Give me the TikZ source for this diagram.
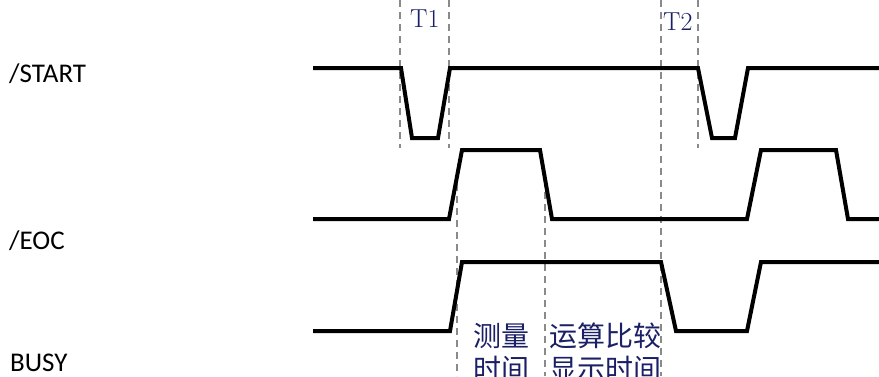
\documentclass[tikz,border=0pt]{standalone}
\usepackage{fontspec}
\newfontfamily\carlito{Carlito}
\newfontfamily\cjk{Noto Sans CJK SC}
\definecolor{navy}{HTML}{1A1F66}
\definecolor{guidegray}{HTML}{8A8A8A}
\begin{document}
\begin{tikzpicture}[x=1pt,y=-1pt,
  sig/.style={line width=4pt, black},
  guide/.style={guidegray, line width=1.1pt, dash pattern=on 7pt off 5pt},
  lbl/.style={anchor=base west, inner sep=0pt, font=\carlito\fontsize{27}{30}\selectfont},
  tmark/.style={anchor=base west, inner sep=0pt, text=navy, font=\fontsize{26}{28}\selectfont},
  cn/.style={anchor=base west, inner sep=0pt, text=navy, align=left, font=\cjk\fontsize{28}{33}\selectfont}]
\useasboundingbox (0,0) rectangle (879,376);
\clip (0,0) rectangle (879,376);
\fill[white] (0,0) rectangle (879,376);

% guide lines
\draw[guide] (400,0) -- (400,148);
\draw[guide] (449,0) -- (449,148);
\draw[guide] (661,0) -- (661,376);
\draw[guide] (698,0) -- (698,148);
\draw[guide] (457,172) -- (457,376);
\draw[guide] (545,180) -- (545,376);

% labels
\node[lbl] (start) at (9,82) {/START};
\node[lbl] (eoc) at (9,249) {/EOC};
\node[lbl] (busy) at (10,371) {BUSY};

\node[tmark] (t1) at (410,27) {T1};
\node[tmark] (t2) at (663,30) {T2};

% multi-line nodes: base anchor sits on the last line's baseline
\node[cn] (meas) at (473,379) {测量\\时间};
\node[cn] (calc) at (549,379) {运算比较\\显示时间};

% waveforms
\draw[sig] (313,68) -- (401,68) -- (412,138) -- (438,138) -- (450,68) -- (698,68)
  -- (712,138) -- (735,138) -- (748,68) -- (880,68);
\draw[sig] (313,219) -- (449,219) -- (462,150) -- (540,150) -- (552,219) -- (747,219)
  -- (761,150) -- (836,150) -- (848,219) -- (880,219);
\draw[sig] (313,331) -- (450,331) -- (462,262) -- (661,262) -- (676,331) -- (747,331)
  -- (761,262) -- (880,262);
\end{tikzpicture}
\end{document}
